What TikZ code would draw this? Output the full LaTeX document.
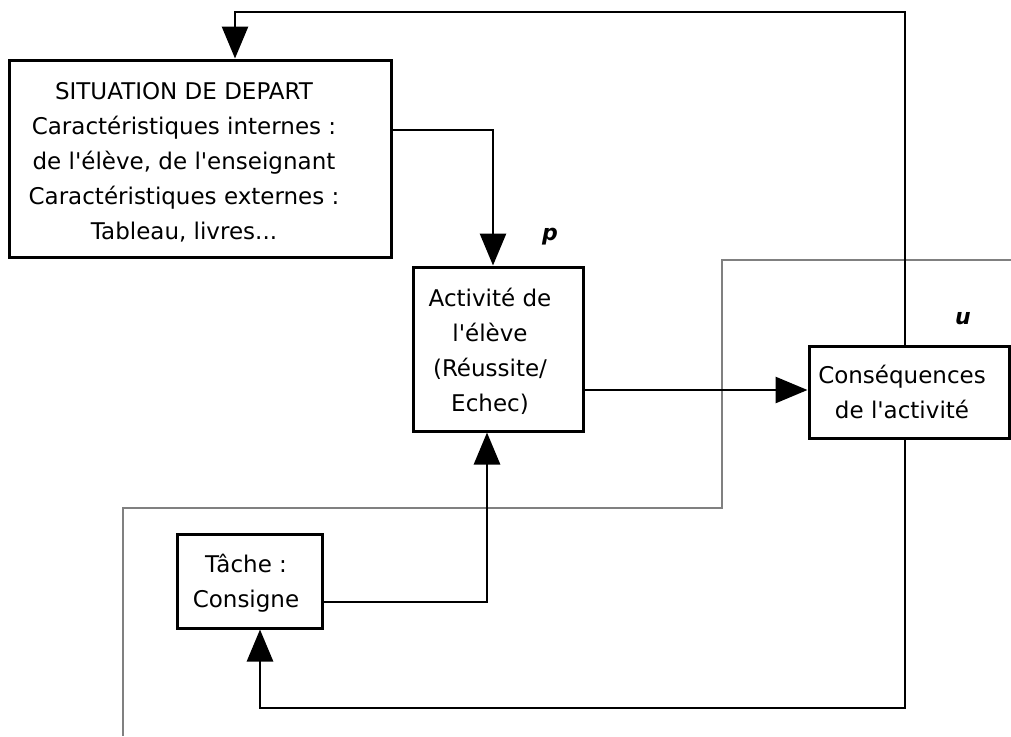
\documentclass[tikz,border=0pt]{standalone}
\usepackage{fontspec}
\setmainfont{DejaVu Sans}[Ligatures=TeXOff]
\usetikzlibrary{arrows.meta}
\begin{document}
\begin{tikzpicture}[x=1pt,y=-1pt,
  box/.style={draw=black, line width=3pt, inner sep=0pt},
  txt/.style={align=center, font=\fontsize{23}{35}\selectfont, inner sep=0pt},
  lbl/.style={font=\fontsize{22}{26}\selectfont\bfseries\itshape, inner sep=0pt},
  conn/.style={line width=2.8pt, -{Triangle[length=32pt,width=26pt]}},
  gline/.style={draw=black!50, line width=2.4pt}]
\useasboundingbox (0,0) rectangle (1011,736);
% gray line
\coordinate (g0) at (1011,260);
\coordinate (g1) at (722,260);
\coordinate (g2) at (722,508);
\coordinate (g3) at (123,508);
\coordinate (g4) at (123,736);
\draw[gline] (g0) -- (g1) -- (g2) -- (g3) -- (g4);
% boxes
\node[box, minimum width=382pt, minimum height=197pt] (sit) at (200,158.5) {};
\node[box, minimum width=170pt, minimum height=164pt] (act) at (498,349) {};
\node[box, minimum width=200pt, minimum height=92pt] (cons) at (909,392) {};
\node[box, minimum width=145pt, minimum height=94pt] (tache) at (249.5,581) {};
% texts
\node[txt] (sitt) at (184,162) {SITUATION DE DEPART\\Caractéristiques internes :\hspace*{15pt}\\de l'élève, de l'enseignant\\Caractéristiques externes :\hspace*{7pt}\\Tableau, livres...};
\node[txt] (actt) at (490,351) {Activité de\\l'élève\\(Réussite/\\Echec)};
\node[txt] (const) at (902,392) {Conséquences\\de l'activité};
\node[txt] (tachet) at (246,583) {Tâche :\\Consigne};
\node[lbl] (p) at (550,236.5) {p};
\node[lbl] (u) at (963,318.5) {u};
% connectors
\coordinate (c1) at (905,12);
\coordinate (c2) at (235,12);
\draw[conn] (cons.north -| c1) -- (c1) -- (c2) -- (sit.north -| c2);
\coordinate (a1) at (493,130);
\draw[conn] (sit.east |- a1) -| (act.north -| a1);
\coordinate (a2) at (700,390);
\draw[conn] (act.east |- a2) -- (cons.west |- a2);
\coordinate (a3) at (487,602);
\draw[conn] (tache.east |- a3) -| (act.south -| a3);
\coordinate (a4) at (260,708);
\draw[conn] (cons.south -| c1) |- (a4) -- (tache.south -| a4);
\end{tikzpicture}
\end{document}
